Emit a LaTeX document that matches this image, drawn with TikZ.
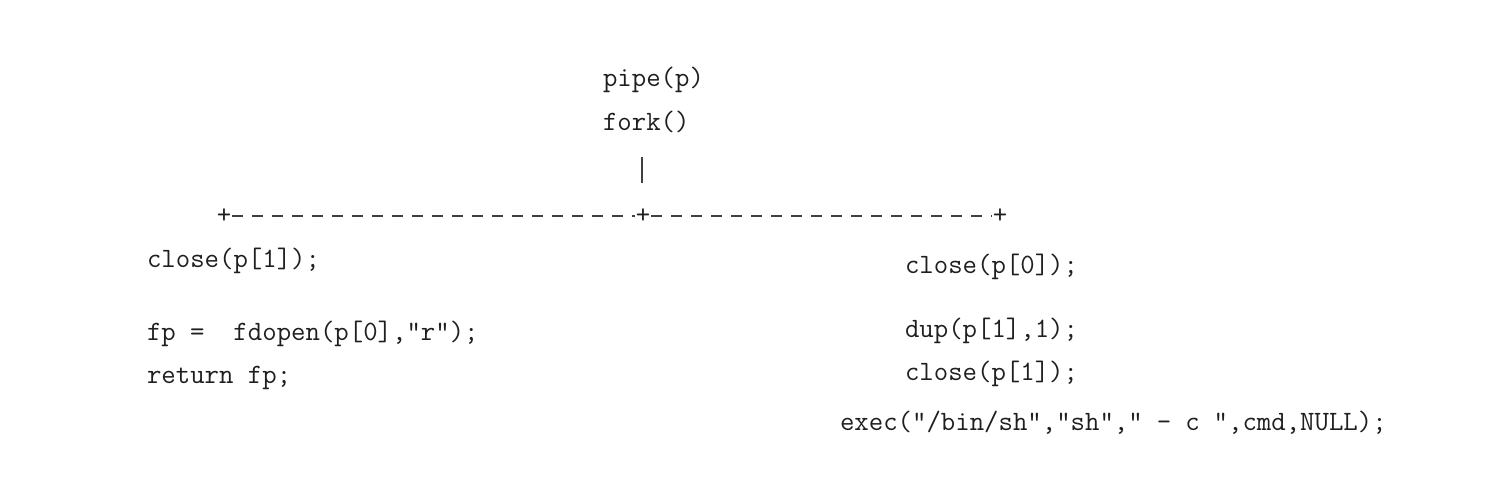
\documentclass[tikz,border=0pt]{standalone}
\usepackage{fontspec}
\newcommand\gp{\hspace{.5em}}
\begin{document}
\begin{tikzpicture}[x=1pt,y=-1pt,
  code/.style={anchor=base west,inner sep=0pt,outer sep=0pt,text=black!88,
    font=\ttfamily\fontsize{28}{30}\selectfont},
  plusmark/.style={anchor=center,inner sep=0pt,outer sep=1pt,text=black!88,
    font=\ttfamily\fontsize{28}{30}\selectfont},
  dashline/.style={draw=black!75,line width=1.6pt,dash pattern=on 11pt off 9pt},
  barline/.style={draw=black!75,line width=1.8pt}]
\fill[white] (0,0) rectangle (1504,500);
\useasboundingbox (0,0) rectangle (1504,500);

\node[code] (pipe) at (603,87) {pipe(p)};
\node[code] (fork) at (603,131) {fork()};

\coordinate (bartop) at (642,157);
\coordinate (barbot) at (642,183);
\draw[barline] (bartop) -- (barbot);

\node[plusmark] (lp) at (224,216) {+};
\node[plusmark] (mp) at (643,216) {+};
\node[plusmark] (rp) at (1000,216) {+};
\draw[dashline] (lp.east) -- (mp.west);
\draw[dashline] (mp.east) -- (rp.west);

\node[code] (pclose) at (147,267) {close(p[1]);};
\node[code] (pfd) at (147,340) {fp =\ \ fdopen(p[0],"r");};
\node[code] (pret) at (147,383) {return fp;};

\node[code] (cclose) at (905,273) {close(p[0]);};
\node[code] (cdup) at (905,337) {dup(p[1],1);};
\node[code] (cclose2) at (905,380) {close(p[1]);};
\node[code] (cexec) at (840,430) {exec("/bin/sh","sh","\gp-\gp c\gp",cmd,NULL);};
\end{tikzpicture}
\end{document}
